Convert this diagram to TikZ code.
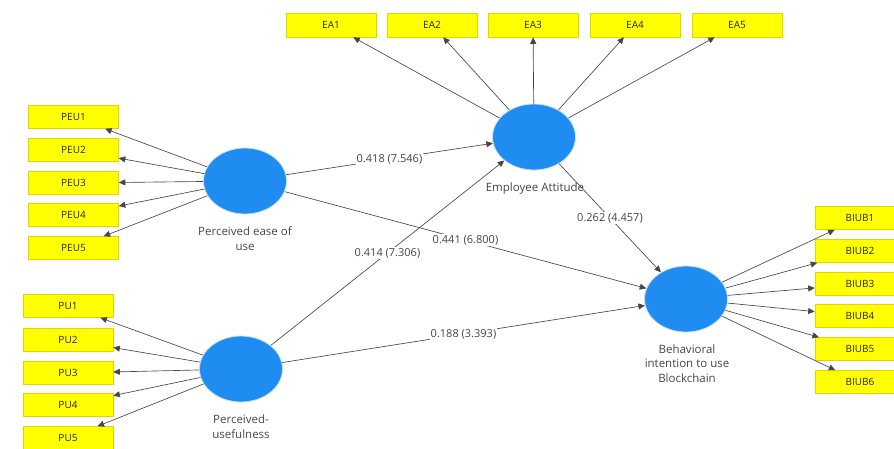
\documentclass[tikz,border=0pt]{standalone}
\usepackage{fontspec}
\setmainfont{Open Sans}
\usetikzlibrary{arrows.meta,shapes.geometric}
\definecolor{lv}{RGB}{30,140,240}
\definecolor{halo}{RGB}{200,225,250}
\definecolor{ind}{RGB}{255,255,0}
\definecolor{indb}{RGB}{225,215,0}
\definecolor{ln}{RGB}{70,70,70}
\definecolor{txt}{RGB}{70,70,70}
\tikzset{
  lvar/.style={ellipse, fill=lv, draw=halo, line width=0.8pt, minimum width=83pt, minimum height=66pt, inner sep=0pt},
  indic/.style={rectangle, fill=ind, draw=indb, line width=0.6pt, minimum width=90pt, minimum height=23pt, inner sep=0pt, font=\fontsize{10}{12}\selectfont, text=black!85},
  lvlabel/.style={align=center, font=\fontsize{11.5}{15.5}\selectfont, text=txt},
  conn/.style={draw=ln, line width=0.65pt, -{Triangle[length=6.5pt,width=6pt]}},
  coef/.style={midway, fill=white, inner sep=1pt, font=\fontsize{11}{13}\selectfont, text=txt}
}
\begin{document}
\begin{tikzpicture}[x=1pt,y=-1pt]
\useasboundingbox (0,0) rectangle (894,448);
\clip (0,0) rectangle (894,448);
% latent variables
\node[lvar] (peu) at (245,181) {};
\node[lvar] (pu) at (241,369) {};
\node[lvar] (ea) at (534,137) {};
\node[lvar] (biub) at (686,299) {};
% latent labels
\node[lvlabel, anchor=north] (peul) at (245,223) {Perceived ease of\\use};
\node[lvlabel, anchor=north] (pul) at (241,411) {Perceived-\\usefulness};
\node[lvlabel, anchor=north] (eal) at (535,179) {Employee Attitude};
\node[lvlabel, anchor=north, font=\fontsize{11.5}{14.5}\selectfont] (biubl) at (687,341) {Behavioral\\intention to use\\Blockchain};
% indicators
\foreach \n/\y in {1/117,2/150,3/183,4/215,5/248}
  \node[indic] (PEU\n) at (73.5,\y) {PEU\n};
\foreach \n/\y in {1/306,2/340,3/373,4/405,5/438}
  \node[indic] (PU\n) at (68,\y) {PU\n};
\foreach \n/\x in {1/331,2/432,3/533,4/635,5/737}
  \node[indic, minimum height=24pt] (EA\n) at (\x,25) {EA\n};
\foreach \n/\y in {1/218,2/251,3/284,4/316,5/349,6/382}
  \node[indic] (BIUB\n) at (860,\y) {BIUB\n};
% loadings
\foreach \n in {1,...,5} \draw[conn] (peu) -- (PEU\n);
\foreach \n in {1,...,5} \draw[conn] (pu) -- (PU\n);
\foreach \n in {1,...,5} \draw[conn] (ea) -- (EA\n);
\foreach \n in {1,...,6} \draw[conn] (biub) -- (BIUB\n);
% structural paths
\draw[conn] (peu) -- node[coef] (c1) {0.418 (7.546)} (ea);
\draw[conn] (pu) -- node[coef] (c2) {0.414 (7.306)} (ea);
\draw[conn] (peu) -- node[coef] (c3) {0.441 (6.800)} (biub);
\draw[conn] (pu) -- node[coef] (c4) {0.188 (3.393)} (biub);
\draw[conn] (ea) -- node[coef] (c5) {0.262 (4.457)} (biub);
\end{tikzpicture}
\end{document}
